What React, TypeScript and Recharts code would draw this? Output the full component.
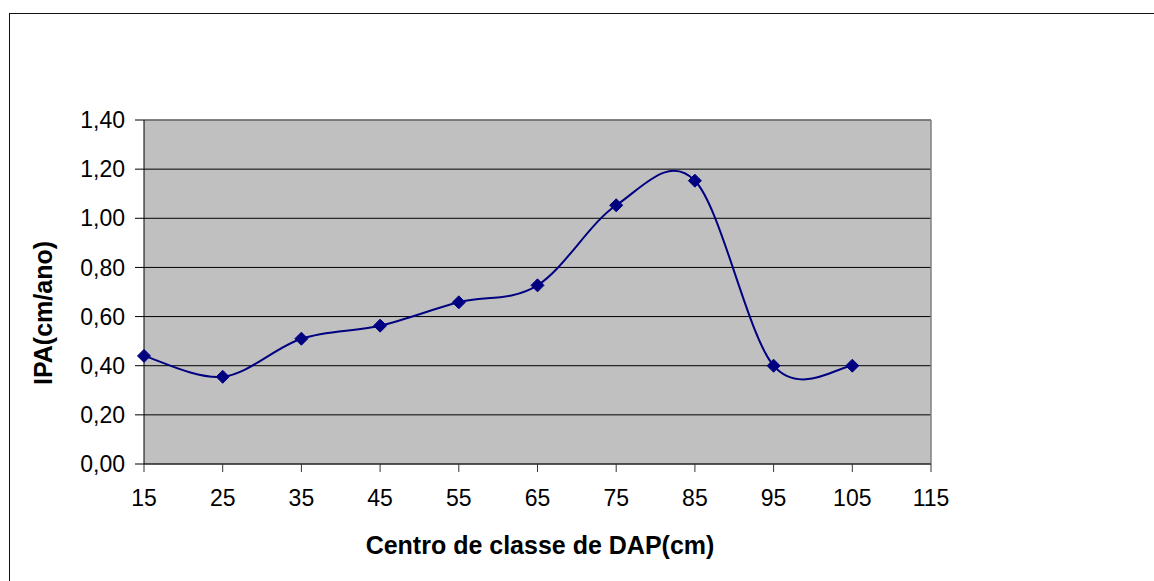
import React from 'react';
import { LineChart, Line, XAxis, YAxis, CartesianGrid, ReferenceLine, Label } from 'recharts';

// centro de classe de DAP (cm) e IPA (cm/ano)
const classCenters = [15, 25, 35, 45, 55, 65, 75, 85, 95, 105];
const ipaValues = [0.44, 0.355, 0.51, 0.563, 0.658, 0.727, 1.053, 1.153, 0.4, 0.4];
const xTicks = [15, 25, 35, 45, 55, 65, 75, 85, 95, 105, 115];
const yTicks = [0, 0.2, 0.4, 0.6, 0.8, 1.0, 1.2, 1.4];

const data = classCenters.map((c, i) => ({ dap: c, ipa: ipaValues[i] }));

const FONT = 'Arial, "Liberation Sans", sans-serif';
const NAVY = '#000080';

// Excel-like smoothed line (Catmull-Rom style bezier, 1/6 tangents)
const excelSmooth = (ctx: any) => {
  let pts: [number, number][] = [];
  return {
    areaStart() {},
    areaEnd() {},
    lineStart() {
      pts = [];
    },
    lineEnd() {
      if (!pts.length) return;
      ctx.moveTo(pts[0][0], pts[0][1]);
      for (let i = 0; i < pts.length - 1; i++) {
        const p0 = pts[Math.max(i - 1, 0)];
        const p1 = pts[i];
        const p2 = pts[i + 1];
        const p3 = pts[Math.min(i + 2, pts.length - 1)];
        ctx.bezierCurveTo(
          p1[0] + (p2[0] - p0[0]) / 6,
          p1[1] + (p2[1] - p0[1]) / 6,
          p2[0] - (p3[0] - p1[0]) / 6,
          p2[1] - (p3[1] - p1[1]) / 6,
          p2[0],
          p2[1]
        );
      }
    },
    point(x: number, y: number) {
      pts.push([+x, +y]);
    },
  };
};

const Diamond = (props: any) => {
  const { cx, cy } = props;
  if (cx == null || cy == null) return null;
  const r = 6.5;
  return (
    <polygon
      points={`${cx},${cy - r} ${cx + r},${cy} ${cx},${cy + r} ${cx - r},${cy}`}
      fill={NAVY}
      stroke={NAVY}
      strokeWidth={1}
    />
  );
};

const fmt = (v: number) => v.toFixed(2).replace('.', ',');

const App: React.FC = () => {
  return (
    <div style={{ position: 'absolute', left: 0, top: 0, width: 1154, height: 581, overflow: 'hidden', background: '#fff' }}>
      <div
        style={{
          position: 'absolute',
          left: 9,
          top: 13,
          width: 1200,
          height: 640,
          border: '1.5px solid #111',
        }}
      />
      <div style={{ position: 'absolute', left: 0, top: 0 }}>
        <LineChart
          width={1154}
          height={581}
          data={data}
          margin={{ top: 120, right: 223, left: 74, bottom: 57 }}
          style={{ fontFamily: FONT }}
        >
          <CartesianGrid vertical={false} stroke="#000" strokeWidth={1} fill="#C0C0C0" fillOpacity={1} />
          <XAxis
            dataKey="dap"
            type="number"
            domain={[15, 115]}
            ticks={xTicks}
            interval={0}
            height={60}
            stroke="#333"
            tickSize={8}
            tickMargin={18}
            tick={{ fill: '#000', fontSize: 23, fontFamily: FONT }}
          >
            <Label
              content={() => (
                <text x={540} y={554} textAnchor="middle" fontSize={25} fontWeight="bold" fontFamily={FONT} fill="#000">
                  Centro de classe de DAP(cm)
                </text>
              )}
            />
          </XAxis>
          <YAxis
            type="number"
            domain={[0, 1.4]}
            ticks={yTicks}
            interval={0}
            width={70}
            stroke="#000"
            tickSize={9}
            tickMargin={10}
            tickFormatter={fmt}
            tick={{ fill: '#000', fontSize: 23, fontFamily: FONT }}
          >
            <Label
              content={() => (
                <text
                  x={52}
                  y={313}
                  textAnchor="middle"
                  fontSize={25}
                  fontWeight="bold"
                  fontFamily={FONT}
                  fill="#000"
                  transform="rotate(-90 52 313)"
                >
                  IPA(cm/ano)
                </text>
              )}
            />
          </YAxis>
          <ReferenceLine y={1.4} stroke="#808080" strokeWidth={1.5} />
          <ReferenceLine x={115} stroke="#808080" strokeWidth={1.5} />
          <Line
            dataKey="ipa"
            type={excelSmooth as any}
            stroke={NAVY}
            strokeWidth={2}
            dot={<Diamond />}
            activeDot={false}
            isAnimationActive={false}
          />
        </LineChart>
      </div>
    </div>
  );
};

export default App;
